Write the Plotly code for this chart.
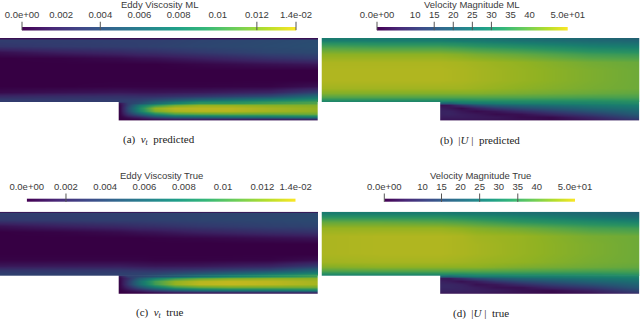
import plotly.graph_objects as go

W, H = 640, 319

VIRIDIS = ["#440154", "#482878", "#3e4989", "#31688e", "#26828e", "#1f9e89", "#35b779", "#6ece58", "#b5de2b", "#fde725"]
DIMMED = ["#360043", "#3a2060", "#323a6e", "#275372", "#1e6872", "#197e6e", "#2a9261", "#58a546", "#91b222", "#cab91e"]

# channel coordinates
UP_X = [0, 60, 119, 140, 155, 200, 270, 318]
STEP_X = [119, 119.6, 128, 140, 155, 175, 200, 230, 270, 318]
NU_UP_Y = [0, 1.5, 8, 14, 20, 26, 32, 42, 48, 54, 58, 61, 63.6, 64]
NU_STEP_Y = [64, 64.4, 67, 70, 73, 76, 79, 81, 82.5]
U_UP_Y = [0, 1.5, 5, 10, 16, 24, 32, 42, 50, 55, 59, 62, 63.6, 64]
U_STEP_Y = [64, 64.4, 67, 70, 73, 76, 79, 80.5, 82.5]

NU_PRED_UP = [
    [.0008, .0008, .0008, .0008, .0008, .0008, .0008, .0008],
    [.0033, .0033, .0034, .0034, .0034, .0037, .0040, .0042],
    [.0028, .0031, .0033, .0034, .0035, .0038, .0041, .0043],
    [.0008, .0015, .0020, .0023, .0024, .0030, .0038, .0040],
    [0, .0001, .0005, .0008, .0009, .0015, .0025, .0030],
    [0, 0, 0, 0, 0, .0003, .0008, .0011],
    [0, 0, 0, 0, 0, 0, 0, 0],
    [0, 0, 0, 0, 0, 0, 0, 0],
    [0, 0, .0001, .0001, .0001, .0001, .0002, .0008],
    [.0005, .0008, .0011, .0010, .0010, .0012, .0018, .0035],
    [.0020, .0023, .0025, .0024, .0024, .0030, .0042, .0065],
    [.0030, .0030, .0031, .0033, .0038, .0055, .0072, .0085],
    [.0033, .0033, .0033, .0040, .0056, .0088, .0096, .0104],
    [.0033, .0033, .0033, .0042, .0058, .0090, .0098, .0105],
]
NU_PRED_STEP = [
    [.0030, .0034, .0042, .0058, .0075, .0090, .0090, .0098, .0105],
    [.0010, .0034, .0042, .0058, .0075, .0090, .0090, .0098, .0105],
    [.0005, .0035, .0072, .0095, .0115, .0125, .0125, .0122, .0120],
    [.0004, .0042, .0085, .0125, .0135, .0135, .0135, .0130, .0125],
    [.0004, .0040, .0082, .0120, .0132, .0135, .0135, .0130, .0125],
    [.0003, .0028, .0055, .0085, .0105, .0110, .0112, .0112, .0115],
    [.0001, .0010, .0020, .0040, .0055, .0060, .0065, .0068, .0075],
    [0, .0002, .0005, .0012, .0018, .0020, .0020, .0020, .0025],
    [0, 0, 0, 0, 0, 0, 0, 0, 0],
]
NU_TRUE_UP = [
    [.0008, .0008, .0008, .0008, .0008, .0008, .0008, .0008],
    [.0034, .0034, .0035, .0035, .0036, .0037, .0038, .0040],
    [.0030, .0032, .0034, .0034, .0035, .0037, .0039, .0041],
    [.0009, .0016, .0021, .0024, .0025, .0030, .0035, .0037],
    [0, .0002, .0006, .0009, .0010, .0016, .0023, .0026],
    [0, 0, 0, 0, .0001, .0003, .0007, .0010],
    [0, 0, 0, 0, 0, 0, 0, 0],
    [0, 0, 0, 0, 0, 0, 0, 0],
    [.0002, .0002, .0002, .0002, .0001, .0001, .0002, .0007],
    [.0012, .0013, .0014, .0012, .0011, .0012, .0018, .0032],
    [.0027, .0028, .0029, .0027, .0026, .0030, .0040, .0060],
    [.0033, .0033, .0034, .0035, .0036, .0046, .0066, .0078],
    [.0035, .0035, .0035, .0037, .0042, .0063, .0086, .0098],
    [.0035, .0035, .0035, .0038, .0044, .0065, .0088, .0100],
]
NU_TRUE_STEP = [
    [.0032, .0034, .0038, .0044, .0052, .0065, .0078, .0088, .0100],
    [.0010, .0034, .0038, .0044, .0052, .0065, .0078, .0088, .0100],
    [.0005, .0024, .0055, .0078, .0098, .0112, .0120, .0124, .0124],
    [.0004, .0030, .0068, .0102, .0125, .0135, .0138, .0136, .0130],
    [.0004, .0030, .0066, .0100, .0125, .0136, .0138, .0136, .0130],
    [.0003, .0020, .0045, .0072, .0098, .0110, .0115, .0115, .0115],
    [.0001, .0008, .0018, .0034, .0052, .0065, .0070, .0072, .0078],
    [0, .0002, .0004, .0010, .0016, .0020, .0022, .0024, .0026],
    [0, 0, 0, 0, 0, 0, 0, 0, 0],
]
U_PRED_UP = [
    [27, 27, 27, 26, 26, 24, 22, 20],
    [27, 27, 27, 26, 26, 24, 22, 21],
    [33, 32, 32, 31, 30, 28, 25, 24],
    [39, 38, 38, 37, 36, 34, 30, 29],
    [44, 44, 44, 43, 42, 40, 36, 35],
    [47, 47, 47, 46.5, 46, 44.5, 41.5, 40.5],
    [47.5, 47.5, 47.5, 47, 46.5, 45, 42.5, 41],
    [47.5, 47.5, 47.5, 47, 46.5, 45, 42.5, 41],
    [46, 46, 46, 46, 45.5, 44, 42, 41],
    [43, 43, 43, 43, 43, 42, 40.5, 39.5],
    [38, 38, 38, 38, 38, 38, 37, 37],
    [32, 32, 32, 32, 33, 33, 33, 34],
    [28, 28, 28, 28, 29, 30, 31, 32],
    [27, 27, 27, 28, 28, 30, 30, 32],
]
U_PRED_STEP = [
    [26, 24, 28, 28, 29, 30, 30, 30, 32],
    [22, 22, 26, 27, 28, 29, 29, 30, 31],
    [3, 4, 10, 16, 20, 22, 24, 26, 28],
    [5, 4, 2, 6, 11, 15, 18, 22, 25],
    [6, 6, 4, 2, 4, 8, 12, 17, 22],
    [6, 6.5, 5, 4, 2, 3, 7, 12, 19],
    [5, 5, 5, 4.5, 4, 2, 2, 7, 15],
    [4, 4, 4, 4, 3.5, 2.5, 1.5, 5, 12],
    [2, 2, 2, 2, 2, 1, 1, 2, 5],
]
U_TRUE_UP = [
    [27, 27, 27, 26, 26, 24, 22, 19],
    [27, 27, 27, 26, 26, 24, 22, 20],
    [33, 33, 33, 32, 31, 29, 25, 23],
    [40, 40, 39, 38, 37, 34, 31, 29],
    [45, 45, 45, 44, 43, 41, 37, 36],
    [47, 47.5, 47.5, 47, 46, 45, 42, 41],
    [47, 47.5, 47.5, 47, 46.5, 45, 42.5, 41],
    [47, 47.5, 47.5, 47, 46.5, 45, 42.5, 41],
    [46, 46.5, 46.5, 46, 45.5, 44.5, 42, 41],
    [43, 44, 44, 44, 44, 42.5, 41, 40],
    [38, 38.5, 38.5, 38.5, 38.5, 38, 37, 37],
    [32, 32, 32, 32, 33, 33, 33, 34],
    [28, 28, 28, 28, 29, 30, 31, 32],
    [27, 27, 27, 28, 28, 29, 30, 31],
]
U_TRUE_STEP = [
    [26, 24, 27, 28, 28, 29, 29, 30, 31],
    [22, 22, 25, 27, 27, 28, 28, 29, 30],
    [4, 4, 8, 14, 18, 21, 23, 25, 27],
    [6, 5, 3, 5, 10, 14, 17, 21, 24],
    [7, 7, 6, 3, 4, 8, 12, 16, 21],
    [7, 7, 6.5, 5, 3, 3, 7, 11, 18],
    [6, 6, 6, 5.5, 5, 3, 2, 6, 14],
    [5, 5, 5, 5, 4, 3, 1.5, 4, 11],
    [2, 2, 2, 2, 2, 1, 1, 2, 5],
]

NU_TICKS = [0, .002, .004, .006, .008, .01, .012, .014]
NU_LABELS = ["0.0e+00", "0.002", "0.004", "0.006", "0.008", "0.01", "0.012", "1.4e-02"]
NU_TICKS_C = [0, .002, .004, .006, .008, .01, .012, .0137]
U_TICKS = [0, 10, 15, 20, 25, 30, 35, 40, 50]
U_LABELS = ["0.0e+00", "10", "15", "20", "25", "30", "35", "40", "5.0e+01"]

PANELS = [
    dict(up=NU_PRED_UP, step=NU_PRED_STEP, uy=NU_UP_Y, sy=NU_STEP_Y, zmax=.014,
         box=(0, 318, 38, 120.5), bar=(22, 296, 27, 30.5), ticks=NU_TICKS, labels=NU_LABELS,
         marked=[0, .004, .012, .014], title="Eddy Viscosity ML", tx=159, ty=4.5,
         cap="(a)  <i>ν<sub>t</sub></i>  predicted", cx=159, cy=140),
    dict(up=U_PRED_UP, step=U_PRED_STEP, uy=U_UP_Y, sy=U_STEP_Y, zmax=50,
         box=(321.5, 639.5, 38, 120.5), bar=(377, 567.7, 27, 30.5), ticks=U_TICKS, labels=U_LABELS,
         marked=[0, 15, 20, 25, 30], title="Velocity Magnitude ML", tx=472, ty=4.5,
         cap="(b)  |<i>U</i> |  predicted", cx=480, cy=140),
    dict(up=NU_TRUE_UP, step=NU_TRUE_STEP, uy=NU_UP_Y, sy=NU_STEP_Y, zmax=.014,
         box=(0, 318, 211.7, 293.7), bar=(26.7, 295.7, 198.7, 202), ticks=NU_TICKS_C, labels=NU_LABELS,
         marked=[.002], title="Eddy Viscosity True", tx=161, ty=175.5,
         cap="(c)  <i>ν<sub>t</sub></i>  true", cx=159, cy=313),
    dict(up=U_TRUE_UP, step=U_TRUE_STEP, uy=U_UP_Y, sy=U_STEP_Y, zmax=50,
         box=(321.5, 639.5, 211.7, 293.7), bar=(384.3, 575, 198.7, 202), ticks=U_TICKS, labels=U_LABELS,
         marked=[0, 15, 25, 35], title="Velocity Magnitude True", tx=480, ty=175.5,
         cap="(d)  |<i>U</i> |  true", cx=481, cy=313),
]


def scale(colors):
    return [[i / (len(colors) - 1), c] for i, c in enumerate(colors)]


def edge_first_column(rows):
    return [[r[0]] + r for r in rows]


fig = go.Figure()
layout = {}
annotations = []
for i, p in enumerate(PANELS):
    a1, a2 = 2 * i + 1, 2 * i + 2
    x0, x1, y0, y1 = p["box"]
    for xs, ys, z in ((UP_X, p["uy"], p["up"]), (STEP_X, p["sy"], edge_first_column(p["step"]))):
        fig.add_trace(go.Heatmap(x=xs, y=ys, z=z, zmin=0, zmax=p["zmax"], zsmooth="best",
                                 colorscale=scale(DIMMED), showscale=False, hoverinfo="skip",
                                 xaxis=f"x{a1}", yaxis=f"y{a1}"))
    layout[f"xaxis{a1}"] = dict(domain=[x0 / W, x1 / W], range=[0, 318], visible=False, anchor=f"y{a1}")
    layout[f"yaxis{a1}"] = dict(domain=[1 - y1 / H, 1 - y0 / H], range=[82.5, 0], visible=False, anchor=f"x{a1}")

    bx0, bx1, by0, by1 = p["bar"]
    t = p["ticks"]
    fig.add_trace(go.Heatmap(x=t, y=[.25, .75], z=[t, t], zmin=0, zmax=t[-1], zsmooth="best",
                             colorscale=scale(VIRIDIS), showscale=False, hoverinfo="skip",
                             xaxis=f"x{a2}", yaxis=f"y{a2}"))
    fig.add_trace(go.Scatter(x=p["marked"], y=[1.3] * len(p["marked"]), mode="markers", cliponaxis=False,
                             marker=dict(symbol="line-ns", size=6, line=dict(color="#555555", width=1)),
                             hoverinfo="skip", showlegend=False, xaxis=f"x{a2}", yaxis=f"y{a2}"))
    layout[f"xaxis{a2}"] = dict(domain=[bx0 / W, bx1 / W], range=[t[0], t[-1]], side="top", anchor=f"y{a2}",
                                tickmode="array", tickvals=t, ticktext=p["labels"], ticks="outside",
                                ticklen=1, tickcolor="rgba(0,0,0,0)", showgrid=False, zeroline=False,
                                showline=False, tickangle=0,
                                tickfont=dict(family="Liberation Sans", size=9.5, color="#3a3a3a"))
    # the bar fills the lower half of this axis; the upper half holds the tick marks
    layout[f"yaxis{a2}"] = dict(domain=[1 - by1 / H, 1 - (2 * by0 - by1) / H], range=[0, 2], visible=False,
                                anchor=f"x{a2}")

    annotations.append(dict(text=p["title"], x=p["tx"] / W, y=1 - p["ty"] / H, xref="paper", yref="paper",
                            showarrow=False, xanchor="center", yanchor="middle",
                            font=dict(family="Liberation Sans", size=9.5, color="#3a3a3a")))
    annotations.append(dict(text=p["cap"], x=p["cx"] / W, y=1 - p["cy"] / H, xref="paper", yref="paper",
                            showarrow=False, xanchor="center", yanchor="middle",
                            font=dict(family="Liberation Serif", size=11, color="#222222")))

fig.update_layout(width=W, height=H, margin=dict(l=0, r=0, t=0, b=0, autoexpand=False), paper_bgcolor="white",
                  plot_bgcolor="white", showlegend=False, annotations=annotations, **layout)
fig.write_html("out.html", config={"displayModeBar": False},
               post_script="document.body.style.margin='0';")
